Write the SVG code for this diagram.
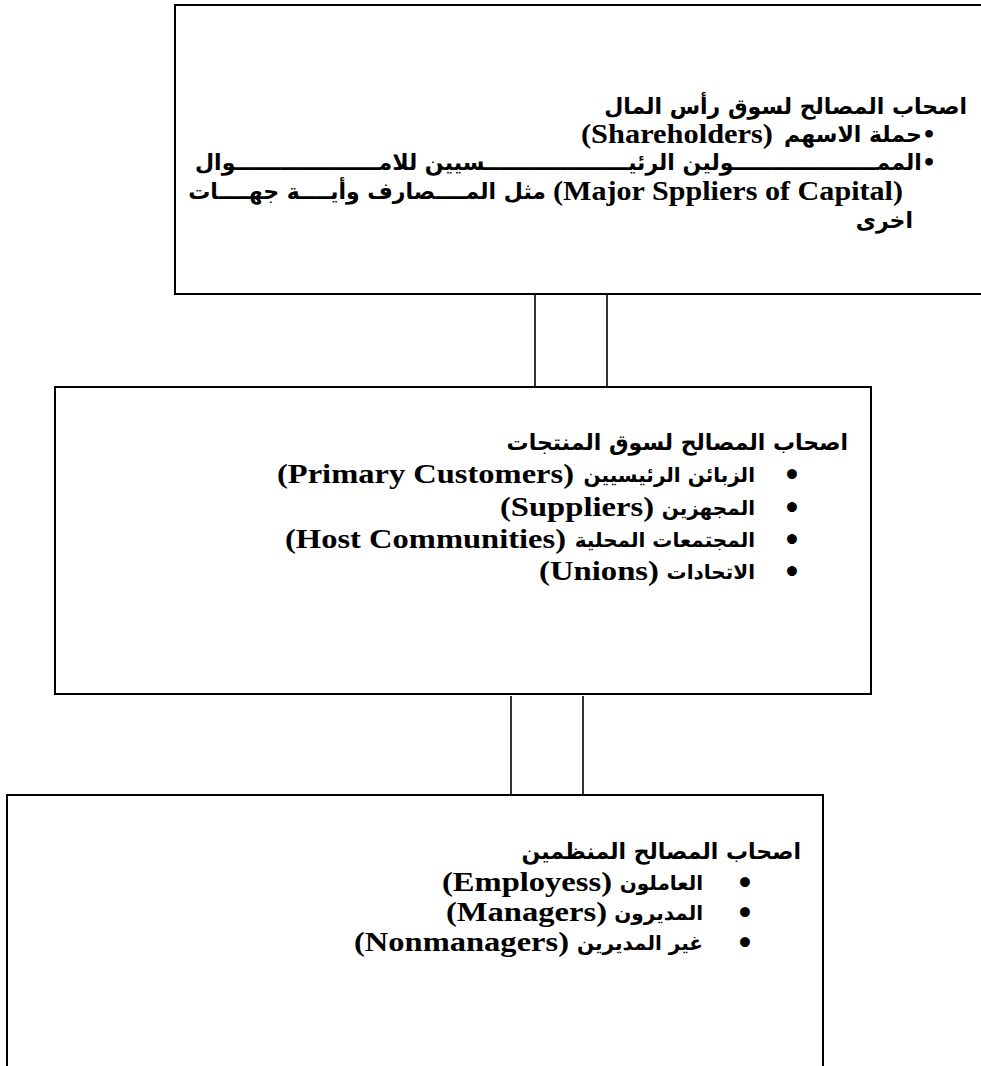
<svg xmlns="http://www.w3.org/2000/svg" width="981" height="1066" viewBox="0 0 981 1066">
<style>
.box{fill:#fff;stroke:#000;stroke-width:2}
.con{stroke:#000;stroke-width:1.6;fill:none}
.ar{font-family:"DejaVu Sans","Liberation Sans",sans-serif;font-weight:bold;font-size:20px;fill:#000}
.h{font-size:22px}
.en{font-family:"Liberation Serif","Times New Roman",serif;font-weight:bold;font-size:27px;fill:#000}
.b{font-family:"DejaVu Sans",sans-serif;font-weight:bold;font-size:28px;fill:#000}
</style>
<rect width="981" height="1066" fill="#fff"/>
<g id="connectors">
<line class="con" x1="535" y1="291" x2="535" y2="387"/>
<line class="con" x1="607" y1="294" x2="607" y2="390"/>
<line class="con" x1="511" y1="696" x2="511" y2="795"/>
<line class="con" x1="583" y1="696" x2="583" y2="795"/>
</g>
<g id="node-capital">
<rect class="box" x="175" y="5" width="830" height="289"/>
<text class="ar h" direction="rtl" text-anchor="start" x="967" y="114">اصحاب المصالح لسوق رأس المال</text>
<text class="ar h" direction="rtl" text-anchor="start" x="936" y="142">•حملة الاسهم</text>
<text class="en" text-anchor="end" x="773" y="143" textLength="192" lengthAdjust="spacingAndGlyphs">(Shareholders)</text>
<text class="ar h" direction="rtl" text-anchor="start" x="936" y="170" textLength="741" lengthAdjust="spacingAndGlyphs">•الممـــــــــــــــــــولين الرئيـــــــــــــــــــسيين للامـــــــــــــــــــوال</text>
<text class="en" text-anchor="end" x="903" y="200" textLength="350" lengthAdjust="spacingAndGlyphs">(Major Sppliers of Capital)</text>
<text class="ar h" direction="rtl" text-anchor="start" x="546" y="199">مثل المــــصارف وأيــــة جهــــات</text>
<text class="ar h" direction="rtl" text-anchor="start" x="913" y="228">اخرى</text>
</g>
<g id="node-product">
<rect class="box" x="55" y="387" width="816" height="307"/>
<text class="ar h" direction="rtl" text-anchor="start" x="848" y="450">اصحاب المصالح لسوق المنتجات</text>
<text class="b" text-anchor="middle" x="792" y="485">•</text>
<text class="ar" direction="rtl" text-anchor="start" x="755" y="482">الزبائن الرئيسيين</text>
<text class="en" text-anchor="end" x="574" y="483" textLength="297" lengthAdjust="spacingAndGlyphs">(Primary Customers)</text>
<text class="b" text-anchor="middle" x="792" y="518">•</text>
<text class="ar" direction="rtl" text-anchor="start" x="755" y="515">المجهزين</text>
<text class="en" text-anchor="end" x="654" y="516" textLength="154" lengthAdjust="spacingAndGlyphs">(Suppliers)</text>
<text class="b" text-anchor="middle" x="792" y="550">•</text>
<text class="ar" direction="rtl" text-anchor="start" x="755" y="547">المجتمعات المحلية</text>
<text class="en" text-anchor="end" x="566" y="548" textLength="281" lengthAdjust="spacingAndGlyphs">(Host Communities)</text>
<text class="b" text-anchor="middle" x="792" y="582">•</text>
<text class="ar" direction="rtl" text-anchor="start" x="755" y="579">الاتحادات</text>
<text class="en" text-anchor="end" x="659" y="580" textLength="120" lengthAdjust="spacingAndGlyphs">(Unions)</text>
</g>
<g id="node-organizational">
<rect class="box" x="7" y="795" width="816" height="300"/>
<text class="ar h" direction="rtl" text-anchor="start" x="801" y="859">اصحاب المصالح المنظمين</text>
<text class="b" text-anchor="middle" x="745" y="893">•</text>
<text class="ar" direction="rtl" text-anchor="start" x="703" y="890">العاملون</text>
<text class="en" text-anchor="end" x="612" y="891" textLength="170" lengthAdjust="spacingAndGlyphs">(Employess)</text>
<text class="b" text-anchor="middle" x="745" y="923">•</text>
<text class="ar" direction="rtl" text-anchor="start" x="703" y="920">المديرون</text>
<text class="en" text-anchor="end" x="607" y="921" textLength="161" lengthAdjust="spacingAndGlyphs">(Managers)</text>
<text class="b" text-anchor="middle" x="745" y="953">•</text>
<text class="ar" direction="rtl" text-anchor="start" x="703" y="950">غير المديرين</text>
<text class="en" text-anchor="end" x="569" y="951" textLength="215" lengthAdjust="spacingAndGlyphs">(Nonmanagers)</text>
</g>
</svg>
